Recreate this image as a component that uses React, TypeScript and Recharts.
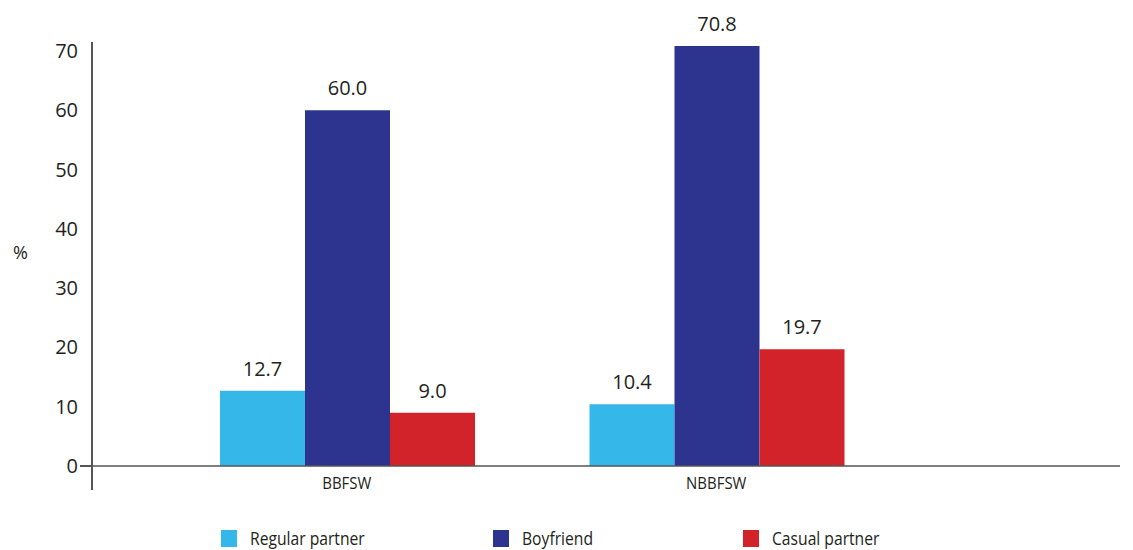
import React from 'react';
import {
  BarChart,
  Bar,
  XAxis,
  YAxis,
  LabelList
} from 'recharts';

// Share of sexual partner type, by group
const groups = ['BBFSW', 'NBBFSW'];
const regularPartner = [12.7, 10.4];
const boyfriend = [60.0, 70.8];
const casualPartner = [9.0, 19.7];
const yTicks = [0, 10, 20, 30, 40, 50, 60, 70];

const series = [
  { key: 'regular', name: 'Regular partner', values: regularPartner, color: '#36B7E9' },
  { key: 'boyfriend', name: 'Boyfriend', values: boyfriend, color: '#2D348F' },
  { key: 'casual', name: 'Casual partner', values: casualPartner, color: '#D2232B' }
];

const data = groups.map((group, i) => {
  const row: Record<string, string | number> = { group };
  series.forEach((s) => {
    row[s.key] = s.values[i];
  });
  return row;
});

const numFont = '"Open Sans", "DejaVu Sans", sans-serif';
const textColor = '#231f20';
const axisColor = '#555';

// legend item x positions, in px
const legendX = [221, 493, 743];

// condensed looking category label
const CategoryTick = ({ x, y, payload }: any) => (
  <g transform={`translate(${x},${y})`}>
    <text
      x={0}
      y={0}
      dy={13}
      textAnchor="middle"
      transform="scale(0.88,1)"
      fill={textColor}
      fontSize={17}
      fontFamily={numFont}
    >
      {payload.value}
    </text>
  </g>
);

export default function App() {
  return (
    <div style={{ position: 'absolute', top: 0, left: 0, width: 1133, height: 550, background: '#fff' }}>
      <BarChart
        width={1133}
        height={550}
        data={data}
        margin={{ top: 39, right: 13, left: 0, bottom: 54 }}
        barCategoryGap={58}
        barGap={0}
      >
        <XAxis
          dataKey="group"
          height={30}
          padding={{ left: 70, right: 219 }}
          axisLine={{ stroke: axisColor, strokeWidth: 1.5 }}
          tickLine={false}
          tickSize={0}
          tickMargin={10}
          tick={<CategoryTick />}
        />
        <YAxis
          width={92}
          domain={[0, 72]}
          ticks={yTicks}
          axisLine={false}
          tickLine={false}
          tickSize={0}
          tickMargin={14}
          tick={{ fill: textColor, fontSize: 20, fontFamily: numFont }}
          label={{
            value: '%',
            angle: 0,
            position: 'insideLeft',
            offset: 13,
            style: { fill: textColor, fontSize: 18, fontFamily: numFont }
          }}
        />
        {series.map((s) => (
          <Bar key={s.key} dataKey={s.key} name={s.name} fill={s.color} isAnimationActive={false}>
            <LabelList
              dataKey={s.key}
              position="top"
              offset={15}
              formatter={(v: any) => Number(v).toFixed(1)}
              style={{ fill: textColor, fontSize: 20, fontFamily: numFont }}
            />
          </Bar>
        ))}
      </BarChart>
      {/* y axis line runs a little below the category axis, and the x axis a little left of it */}
      <div style={{ position: 'absolute', left: 91, top: 42, width: 1.5, height: 448, background: axisColor }} />
      <div style={{ position: 'absolute', left: 80, top: 465, width: 12, height: 1.5, background: axisColor }} />
      {series.map((s, i) => (
        <div
          key={s.key}
          style={{
            position: 'absolute',
            left: legendX[i],
            top: 526,
            display: 'flex',
            alignItems: 'center',
            fontFamily: numFont,
            fontSize: 18,
            color: textColor,
            whiteSpace: 'nowrap'
          }}
        >
          <span style={{ display: 'inline-block', width: 16, height: 17, background: s.color, marginRight: 13 }} />
          <span style={{ display: 'inline-block', transform: 'scaleX(0.87)', transformOrigin: 'left center' }}>
            {s.name}
          </span>
        </div>
      ))}
    </div>
  );
}
